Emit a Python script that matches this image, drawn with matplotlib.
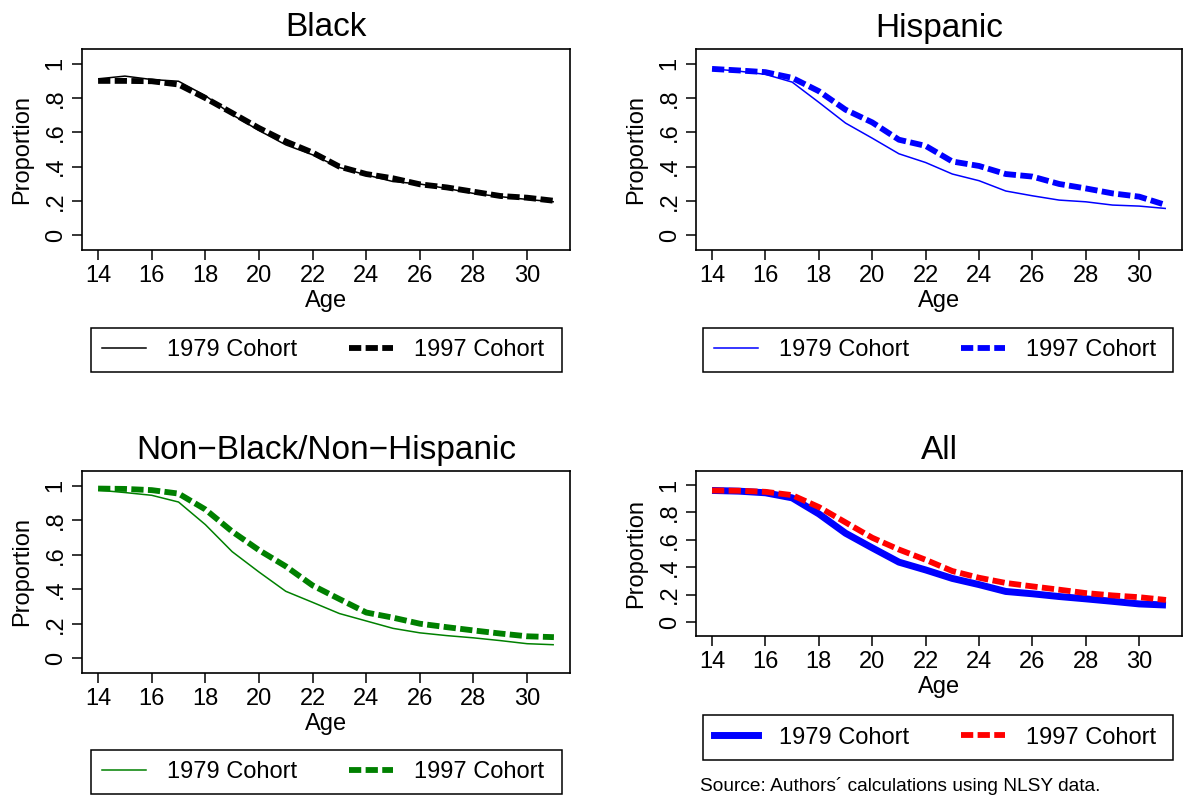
import matplotlib
matplotlib.use('Agg')
import matplotlib.pyplot as plt
from matplotlib.lines import Line2D
from matplotlib.patches import Rectangle

plt.rcParams['font.family'] = ['Liberation Sans', 'DejaVu Sans']

ages = list(range(14, 32))

black_1979 = [0.912, 0.928, 0.908, 0.898, 0.814, 0.703, 0.611, 0.527, 0.469, 0.395,
              0.352, 0.313, 0.299, 0.273, 0.244, 0.225, 0.209, 0.195]
black_1997 = [0.900, 0.900, 0.898, 0.879, 0.800, 0.713, 0.625, 0.547, 0.482, 0.400,
              0.357, 0.332, 0.297, 0.279, 0.254, 0.229, 0.219, 0.201]

hisp_1979 = [0.970, 0.957, 0.938, 0.893, 0.775, 0.654, 0.566, 0.475, 0.424, 0.357,
             0.318, 0.258, 0.230, 0.205, 0.195, 0.176, 0.170, 0.156]
hisp_1997 = [0.970, 0.961, 0.951, 0.918, 0.840, 0.732, 0.658, 0.557, 0.521, 0.430,
             0.404, 0.357, 0.342, 0.299, 0.273, 0.244, 0.225, 0.176]

other_1979 = [0.975, 0.961, 0.945, 0.906, 0.775, 0.618, 0.500, 0.388, 0.324, 0.259,
              0.216, 0.173, 0.147, 0.131, 0.118, 0.102, 0.084, 0.078]
other_1997 = [0.984, 0.982, 0.975, 0.955, 0.863, 0.735, 0.627, 0.533, 0.422, 0.343,
              0.265, 0.235, 0.200, 0.180, 0.161, 0.143, 0.127, 0.122]

all_1979 = [0.960, 0.955, 0.943, 0.906, 0.789, 0.648, 0.541, 0.437, 0.380, 0.318,
            0.273, 0.223, 0.206, 0.186, 0.169, 0.151, 0.132, 0.124]
all_1997 = [0.960, 0.958, 0.950, 0.926, 0.839, 0.727, 0.615, 0.529, 0.454, 0.372,
            0.323, 0.285, 0.260, 0.236, 0.211, 0.194, 0.181, 0.161]

y_ticks = [0, 0.2, 0.4, 0.6, 0.8, 1]
y_tick_labels = ['0', '.2', '.4', '.6', '.8', '1']
x_ticks = list(range(14, 31, 2))
legend_labels = ['1979 Cohort', '1997 Cohort']

W, H = 1185, 800
DASH = (2.1, 0.75)


def px_rect(left, top, right, bottom):
    return [left / W, 1 - bottom / H, (right - left) / W, (bottom - top) / H]


def draw_panel(fig, rect, title, y79, y97, c79, c97, lw79, lw97, ylim, legend_rect):
    ax = fig.add_axes(px_rect(*rect))
    ax.plot(ages, y79, color=c79, lw=lw79, solid_capstyle='butt')
    ax.plot(ages, y97, color=c97, lw=lw97, dashes=DASH, dash_capstyle='butt')
    ax.set_xlim(13.4, 31.6)
    ax.set_ylim(*ylim)
    ax.set_xticks(x_ticks)
    ax.set_yticks(y_ticks)
    ax.set_yticklabels(y_tick_labels, rotation=90, va='center')
    ax.tick_params(direction='out', length=7, width=1.1, labelsize=17, pad=4)
    for s in ax.spines.values():
        s.set_linewidth(1.2)
    ax.set_title(title, fontsize=24, pad=9)
    ax.set_xlabel('Age', fontsize=17, labelpad=2)
    ax.set_ylabel('Proportion', fontsize=17, labelpad=8)

    # legend frame drawn separately so the box width matches the plot
    l, t, r, b = legend_rect
    fig.patches.append(Rectangle((l / W, 1 - b / H), (r - l) / W, (b - t) / H,
                                 transform=fig.transFigure, fill=False,
                                 edgecolor='black', lw=1.1))
    handles = [Line2D([], [], color=c79, lw=lw79),
               Line2D([], [], color=c97, lw=lw97, dashes=DASH)]
    fig.legend(handles, legend_labels, loc='center left', ncol=2,
               bbox_to_anchor=((l + 11) / W, 1 - (t + b) / 2 / H),
               fontsize=17, frameon=False, handlelength=1.86,
               handletextpad=0.9, columnspacing=2.2, borderpad=0, borderaxespad=0)
    return ax


fig = plt.figure(figsize=(W / 100, H / 100), dpi=100)

draw_panel(fig, (82, 49, 570, 250), 'Black', black_1979, black_1997, 'black', 'black',
           1.1, 4.2, (-0.086, 1.086), (91, 328, 562, 372))
draw_panel(fig, (696, 49, 1182, 250), 'Hispanic', hisp_1979, hisp_1997, 'blue', 'blue',
           1.1, 4.2, (-0.086, 1.086), (703, 328, 1173, 372))
draw_panel(fig, (82, 471, 570, 673), 'Non\u2212Black/Non\u2212Hispanic', other_1979, other_1997,
           'green', 'green', 1.1, 4.2, (-0.086, 1.086), (91, 750, 562, 794))
draw_panel(fig, (696, 471, 1182, 636), 'All', all_1979, all_1997, 'blue', 'red',
           5.0, 4.2, (-0.102, 1.102), (703, 715, 1173, 760))

fig.text(700 / W, 1 - 786 / H, 'Source: Authors\u00b4 calculations using NLSY data.',
         fontsize=13.8, va='center', ha='left')

fig.savefig('out.png', dpi=100)
